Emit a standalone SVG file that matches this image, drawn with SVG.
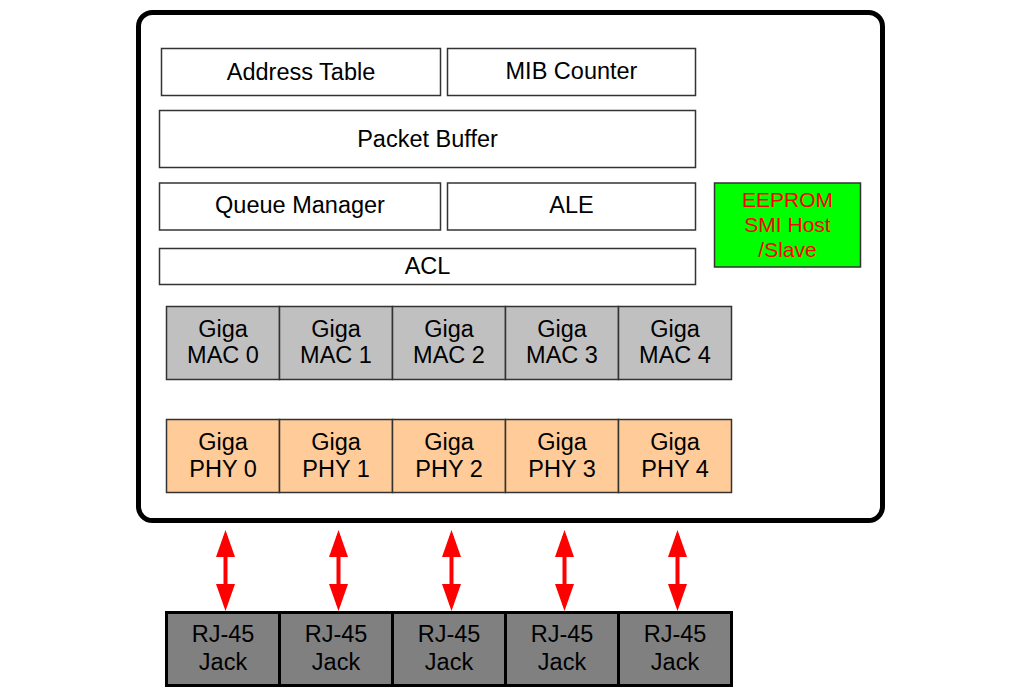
<svg xmlns="http://www.w3.org/2000/svg" width="1029" height="693" viewBox="0 0 1029 693">
<style>
text{font-family:"Liberation Sans",Arial,sans-serif;font-size:23.5px;fill:#000;text-anchor:middle}
.blk{fill:#fff;stroke:#333;stroke-width:1.5}
.mac{fill:#c0c0c0;stroke:#333;stroke-width:1.5}
.phy{fill:#ffcc99;stroke:#333;stroke-width:1.5}
.rj{fill:#808080;stroke:#000;stroke-width:3}
.ee{fill:#00ff00;stroke:#333;stroke-width:1.5}
.red{fill:#ff0000;font-size:21px}
.arr{stroke:#ff0000;stroke-width:4;fill:none;marker-start:url(#ah);marker-end:url(#ah)}
</style>
<defs>
<marker id="ah" markerUnits="userSpaceOnUse" markerWidth="27" markerHeight="19" refX="21" refY="9.5" orient="auto-start-reverse">
<path d="M0,0 L27,9.5 L0,19 Z" fill="#ff0000"/>
</marker>
</defs>
<rect width="1029" height="693" fill="#fff"/>
<g id="chip">
<rect x="138.5" y="12.5" width="744" height="508" rx="14" fill="#fff" stroke="#000" stroke-width="5"/>
</g>
<g id="address-table"><rect class="blk" x="161.5" y="48.5" width="279" height="47"/><text x="301" y="79.5">Address Table</text></g>
<g id="mib-counter"><rect class="blk" x="447.5" y="48.5" width="248" height="47"/><text x="571.5" y="79">MIB Counter</text></g>
<g id="packet-buffer"><rect class="blk" x="159.5" y="110.5" width="536" height="57"/><text x="427.5" y="147">Packet Buffer</text></g>
<g id="queue-manager"><rect class="blk" x="159.5" y="183" width="281" height="47"/><text x="300" y="213">Queue Manager</text></g>
<g id="ale"><rect class="blk" x="447.5" y="183" width="248" height="47"/><text x="571.5" y="213">ALE</text></g>
<g id="acl"><rect class="blk" x="159.5" y="248.5" width="536" height="36"/><text x="427.5" y="274">ACL</text></g>
<g id="eeprom"><rect class="ee" x="714.5" y="183" width="146" height="84"/>
<text class="red" x="787.5" y="206.5">EEPROM</text><text class="red" x="787.5" y="231.5">SMI Host</text><text class="red" x="787.5" y="256.5">/Slave</text></g>
<g id="mac0"><rect class="mac" x="166.5" y="306.5" width="113" height="73"/><text x="223" y="336.5">Giga</text><text x="223" y="363">MAC 0</text></g>
<g id="mac1"><rect class="mac" x="279.5" y="306.5" width="113" height="73"/><text x="336" y="336.5">Giga</text><text x="336" y="363">MAC 1</text></g>
<g id="mac2"><rect class="mac" x="392.5" y="306.5" width="113" height="73"/><text x="449" y="336.5">Giga</text><text x="449" y="363">MAC 2</text></g>
<g id="mac3"><rect class="mac" x="505.5" y="306.5" width="113" height="73"/><text x="562" y="336.5">Giga</text><text x="562" y="363">MAC 3</text></g>
<g id="mac4"><rect class="mac" x="618.5" y="306.5" width="113" height="73"/><text x="675" y="336.5">Giga</text><text x="675" y="363">MAC 4</text></g>
<g id="phy0"><rect class="phy" x="166.5" y="419.5" width="113" height="73"/><text x="223" y="449.5">Giga</text><text x="223" y="476.5">PHY 0</text></g>
<g id="phy1"><rect class="phy" x="279.5" y="419.5" width="113" height="73"/><text x="336" y="449.5">Giga</text><text x="336" y="476.5">PHY 1</text></g>
<g id="phy2"><rect class="phy" x="392.5" y="419.5" width="113" height="73"/><text x="449" y="449.5">Giga</text><text x="449" y="476.5">PHY 2</text></g>
<g id="phy3"><rect class="phy" x="505.5" y="419.5" width="113" height="73"/><text x="562" y="449.5">Giga</text><text x="562" y="476.5">PHY 3</text></g>
<g id="phy4"><rect class="phy" x="618.5" y="419.5" width="113" height="73"/><text x="675" y="449.5">Giga</text><text x="675" y="476.5">PHY 4</text></g>
<g id="rj0"><rect class="rj" x="166.5" y="612.5" width="113" height="73"/><text x="223" y="642">RJ-45</text><text x="223" y="669.5">Jack</text></g>
<g id="rj1"><rect class="rj" x="279.5" y="612.5" width="113" height="73"/><text x="336" y="642">RJ-45</text><text x="336" y="669.5">Jack</text></g>
<g id="rj2"><rect class="rj" x="392.5" y="612.5" width="113" height="73"/><text x="449" y="642">RJ-45</text><text x="449" y="669.5">Jack</text></g>
<g id="rj3"><rect class="rj" x="505.5" y="612.5" width="113" height="73"/><text x="562" y="642">RJ-45</text><text x="562" y="669.5">Jack</text></g>
<g id="rj4"><rect class="rj" x="618.5" y="612.5" width="113" height="73"/><text x="675" y="642">RJ-45</text><text x="675" y="669.5">Jack</text></g>
<g id="connectors">
<line class="arr" x1="225.5" y1="536" x2="225.5" y2="605"/>
<line class="arr" x1="338.5" y1="536" x2="338.5" y2="605"/>
<line class="arr" x1="451.5" y1="536" x2="451.5" y2="605"/>
<line class="arr" x1="564.5" y1="536" x2="564.5" y2="605"/>
<line class="arr" x1="677.5" y1="536" x2="677.5" y2="605"/>
</g>
</svg>
